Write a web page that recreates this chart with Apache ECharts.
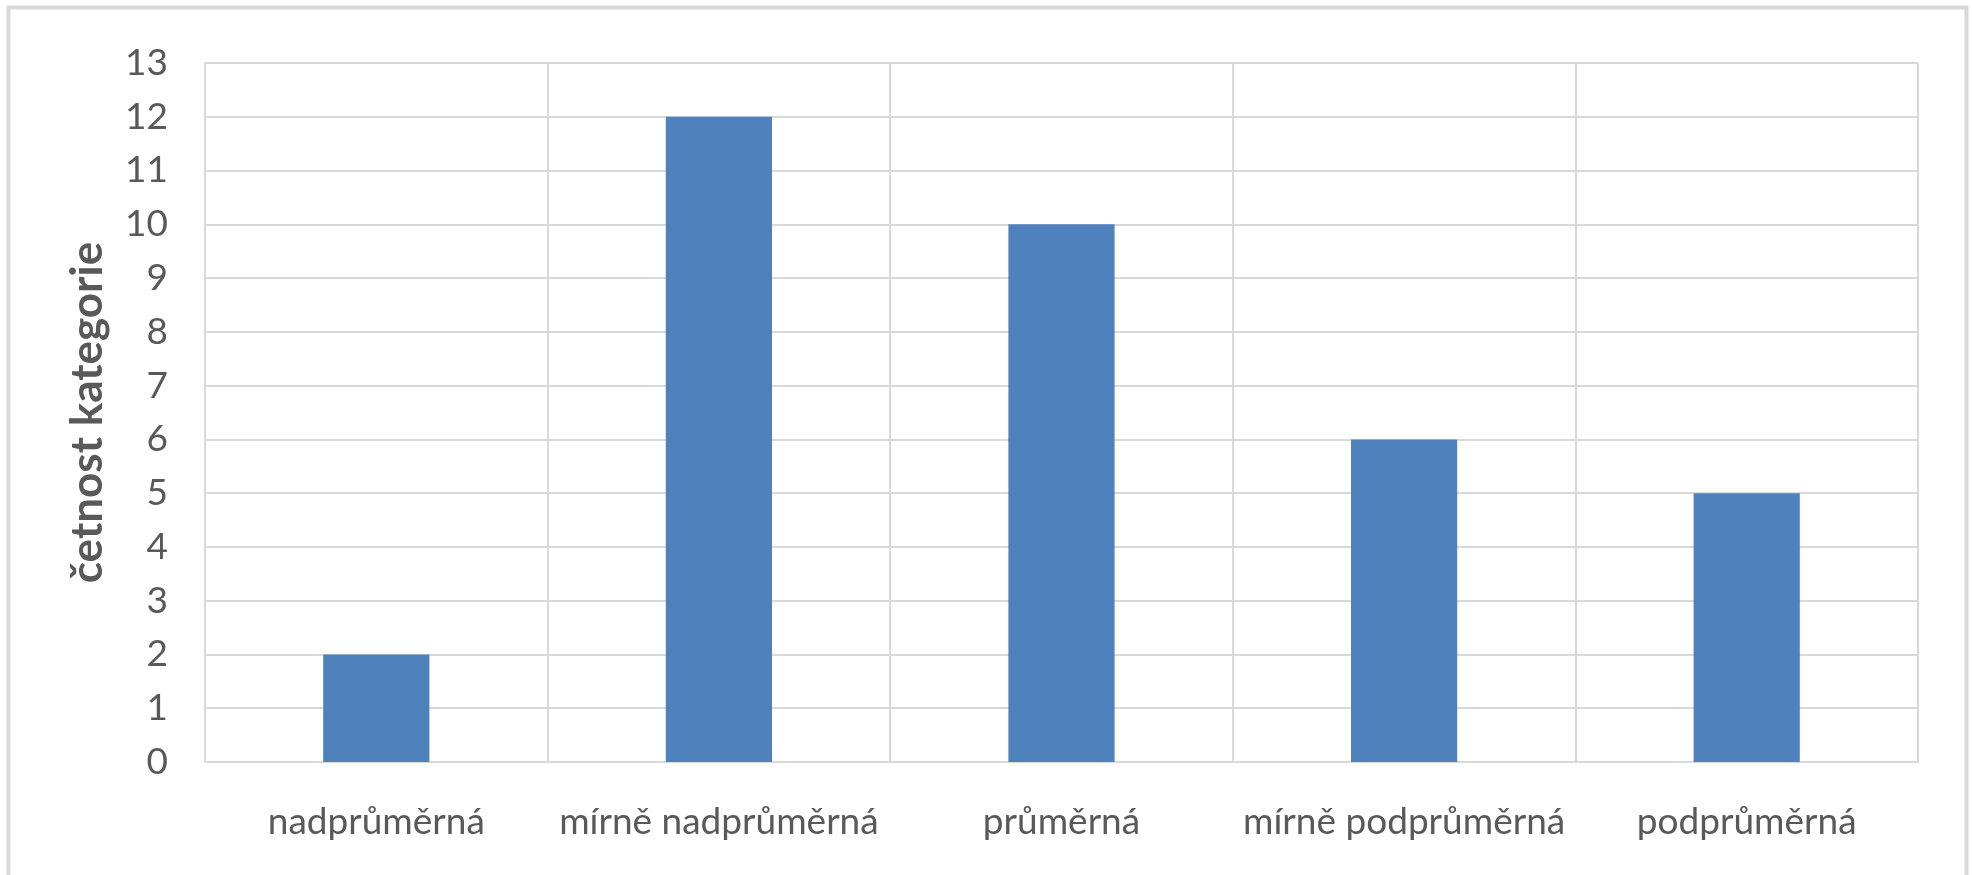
<!DOCTYPE html>
<html>
<head>
<meta charset="utf-8">
<script src="https://cdn.jsdelivr.net/npm/echarts@6/dist/echarts.min.js"></script>
<style>
  html, body { margin: 0; padding: 0; background: #ffffff; }
  #chart { width: 1972px; height: 875px; }
</style>
</head>
<body>
<div id="chart"></div>
<script>
// Četnost kategorií
const categories = ['nadprůměrná', 'mírně nadprůměrná', 'průměrná', 'mírně podprůměrná', 'podprůměrná'];
const counts = [2, 12, 10, 6, 5];
const yAxisTitle = 'četnost kategorie';

const textColor = '#595959';
const gridColor = '#d9d9d9';

const chart = echarts.init(document.getElementById('chart'), null, { renderer: 'canvas' });

chart.setOption({
  backgroundColor: '#ffffff',
  animation: false,
  textStyle: { fontFamily: 'Lato, "Noto Sans", sans-serif' },
  graphic: [{
    type: 'rect',
    shape: { x: 8.5, y: 7.5, width: 1958, height: 900 },
    style: { fill: 'none', stroke: '#d9d9d9', lineWidth: 4 },
    silent: true,
    z: -10
  }],
  grid: { left: 205, right: 54, top: 63, bottom: 113, containLabel: false },
  xAxis: {
    type: 'category',
    data: categories,
    boundaryGap: true,
    axisLine: { show: true, lineStyle: { color: gridColor, width: 2 } },
    axisTick: { show: false },
    splitLine: { show: true, lineStyle: { color: gridColor, width: 2 } },
    axisLabel: {
      color: textColor,
      fontSize: 37,
      margin: 42,
      interval: 0,
      fontFamily: 'Lato'
    }
  },
  yAxis: {
    type: 'value',
    min: 0,
    max: 13,
    interval: 1,
    name: yAxisTitle,
    nameLocation: 'middle',
    nameGap: 95,
    nameRotate: 90,
    nameTextStyle: {
      color: textColor,
      fontSize: 44,
      fontWeight: 'bold',
      fontFamily: 'Lato'
    },
    axisLine: { show: true, lineStyle: { color: gridColor, width: 2 } },
    axisTick: { show: false },
    splitLine: { show: true, lineStyle: { color: gridColor, width: 2 } },
    axisLabel: {
      color: textColor,
      fontSize: 37,
      margin: 37,
      fontFamily: 'Lato'
    }
  },
  series: [{
    type: 'bar',
    data: counts,
    barWidth: '31%',
    itemStyle: { color: '#4f81bd' }
  }]
});
</script>
</body>
</html>
